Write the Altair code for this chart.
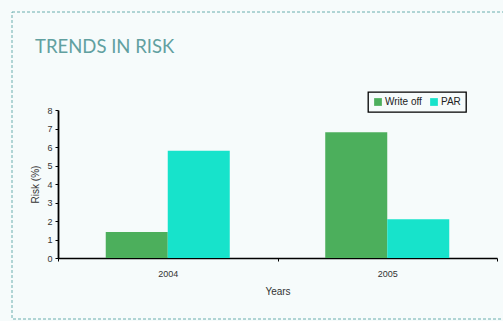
import altair as alt
import pandas as pd

years = ["2004", "2005"]
series = ["Write off", "PAR"]
write_off = [1.4, 6.8]
par = [5.8, 2.1]
colors = ["#4caf5c", "#17e3cb"]
heading = "TRENDS IN RISK"

rows = []
for i, y in enumerate(years):
    rows.append({"Year": y, "Series": "Write off", "Risk": write_off[i]})
    rows.append({"Year": y, "Series": "PAR", "Risk": par[i]})
df = pd.DataFrame(rows)

bars = alt.Chart(df).mark_bar().encode(
    x=alt.X("Year:N", sort=years,
            scale=alt.Scale(paddingInner=0, paddingOuter=0),
            axis=alt.Axis(title="Years", labelAngle=0, tickBand="extent",
                          domainColor="#000", domainWidth=1.3,
                          tickColor="#000", tickSize=3,
                          labelFontSize=9, labelColor="#333", labelPadding=8,
                          titleFontSize=10, titleFontWeight="normal",
                          titleColor="#333", titlePadding=8,
                          labelFont="Liberation Sans", titleFont="Liberation Sans")),
    xOffset=alt.XOffset("Series:N", sort=series,
                        scale=alt.Scale(paddingOuter=0.77, paddingInner=0)),
    y=alt.Y("Risk:Q", scale=alt.Scale(domain=[0, 8], nice=False),
            axis=alt.Axis(title="Risk (%)", values=list(range(9)), grid=False,
                          domainColor="#000", domainWidth=1.8,
                          tickColor="#000", tickSize=3,
                          labelFontSize=9, labelColor="#333", labelPadding=3,
                          titleFontSize=10, titleFontWeight="normal",
                          titleColor="#333", titlePadding=6,
                          labelFont="Liberation Sans", titleFont="Liberation Sans")),
    color=alt.Color("Series:N", sort=series,
                    scale=alt.Scale(domain=series, range=colors),
                    legend=alt.Legend(title=None, orient="none", legendX=310,
                                      legendY=-18, direction="horizontal",
                                      symbolType="square", symbolSize=60,
                                      symbolStrokeWidth=0,
                                      labelFontSize=10, labelColor="#222",
                                      labelFont="Liberation Sans",
                                      strokeColor="#000",
                                      padding=5, columnPadding=7, labelOffset=2)),
)

# dashed frame around the whole panel
frame = alt.Chart(pd.DataFrame({"k": [0]})).mark_rect(
    fill=None, stroke="#6aaeae", strokeDash=[3, 2], strokeWidth=1
).encode(
    x=alt.value(-46), x2=alt.value(460), y=alt.value(-98), y2=alt.value(209)
)

# panel heading
title = alt.Chart(pd.DataFrame({"t": [heading]})).mark_text(
    align="left", baseline="alphabetic", font="Lato", fontSize=18.5,
    color="#61a0a0"
).encode(text="t:N", x=alt.value(-23), y=alt.value(-57))

chart = alt.layer(frame, title, bars).properties(
    width=439, height=148,
    autosize=alt.AutoSizeParams(type="none"),
    padding={"left": 58, "top": 110, "right": 6, "bottom": 63},
    background="#f6fbfb",
).configure_view(stroke=None).configure_legend(strokeWidth=1.3)

chart.save("out.html", embed_options={"renderer": "svg", "actions": False})
